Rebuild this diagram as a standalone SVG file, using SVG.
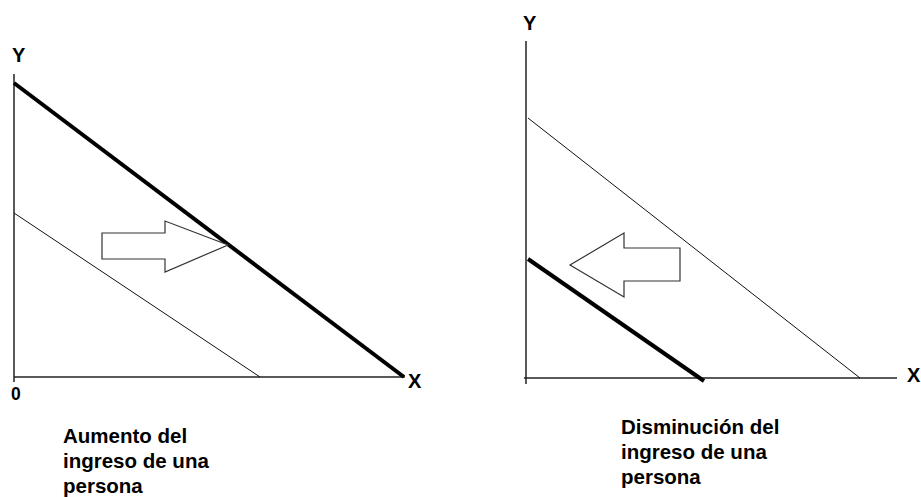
<svg xmlns="http://www.w3.org/2000/svg" width="921" height="497" viewBox="0 0 921 497">
<style>
.axis{stroke:#222;stroke-width:1.5;fill:none}
.thick{stroke:#000;stroke-width:4;fill:none}
.thin{stroke:#111;stroke-width:1;fill:none}
.arrow{stroke:#333;stroke-width:1.2;fill:#fff}
text{font-family:"Liberation Sans",Arial,sans-serif;font-weight:bold;fill:#000}
.lbl{font-size:20px}
.cap{font-size:20.5px}
</style>
<rect width="921" height="497" fill="#fff"/>
<g id="left-chart">
<g id="left-axes">
<line class="axis" x1="14" y1="74" x2="14" y2="382"/>
<line class="axis" x1="14" y1="377" x2="405" y2="377"/>
<text class="lbl" x="12" y="62">Y</text>
<text x="11" y="400" style="font-size:17.5px">0</text>
<text class="lbl" x="408" y="388">X</text>
</g>
<g id="left-lines">
<line class="thick" x1="14" y1="83" x2="404" y2="377"/>
<line class="thin" x1="14" y1="213" x2="260" y2="377"/>
</g>
<polygon id="left-arrow" class="arrow" points="102,233 165,233 165,221 228,245 165,272 165,259 102,259"/>
<text id="left-caption" class="cap"><tspan x="63" y="443">Aumento del</tspan><tspan x="63" y="468">ingreso de una</tspan><tspan x="63" y="493">persona</tspan></text>
</g>
<g id="right-chart">
<g id="right-axes">
<line class="axis" x1="526" y1="41" x2="526" y2="384"/>
<line class="axis" x1="524" y1="378" x2="897" y2="378"/>
<text class="lbl" x="523" y="30">Y</text>
<text class="lbl" x="907" y="382">X</text>
</g>
<g id="right-lines">
<line class="thin" x1="528" y1="118" x2="860" y2="378"/>
<line class="thick" x1="528" y1="259" x2="704" y2="381"/>
</g>
<polygon id="right-arrow" class="arrow" points="680,248 624,248 624,233 570,265 624,297 624,281 680,281"/>
<text id="right-caption" class="cap"><tspan x="621" y="434">Disminución del</tspan><tspan x="621" y="459">ingreso de una</tspan><tspan x="621" y="484">persona</tspan></text>
</g>
</svg>
